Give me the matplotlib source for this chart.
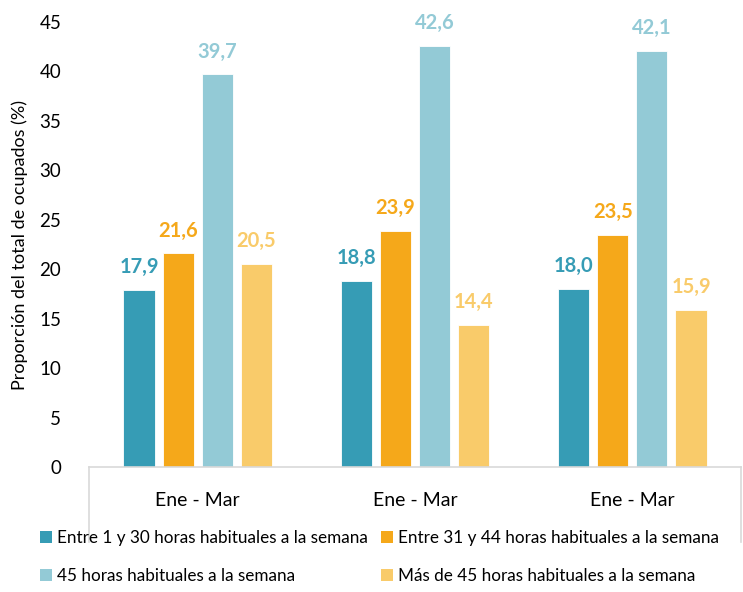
import matplotlib.pyplot as plt
from matplotlib.lines import Line2D
from matplotlib.patches import Patch
import numpy as np

plt.rcParams['font.family'] = ['Lato', 'DejaVu Sans']

# Datos
categorias = ['Ene - Mar', 'Ene - Mar', 'Ene - Mar']
series = ['Entre 1 y 30 horas habituales a la semana',
          'Entre 31 y 44 horas habituales a la semana',
          '45 horas habituales a la semana',
          'Más de 45 horas habituales a la semana']
entre_1_30 = [17.9, 18.8, 18.0]
entre_31_44 = [21.6, 23.9, 23.5]
h45 = [39.7, 42.6, 42.1]
mas_45 = [20.5, 14.4, 15.9]
valores = [entre_1_30, entre_31_44, h45, mas_45]
colores = ['#369CB5', '#F5A81A', '#93CAD6', '#F9CB6A']

fig = plt.figure(figsize=(7.43, 5.92), dpi=100)
ax = fig.add_axes([0.1198, 0.2111, 0.8775, 0.7517])

x = np.arange(len(categorias))
ancho = 0.143
paso = 0.18
for i, (vals, col) in enumerate(zip(valores, colores)):
    pos = x + (i - 1.5) * paso
    bars = ax.bar(pos, vals, width=ancho, color=col, edgecolor='white', linewidth=0.6)
    for b, v in zip(bars, vals):
        ax.text(b.get_x() + b.get_width() / 2, v + 1.3, f'{v:.1f}'.replace('.', ','),
                ha='center', va='bottom', color=col, fontsize=14.5, fontweight='bold')

ax.set_xlim(-0.5, 2.5)
ax.set_ylim(0, 45)
ax.set_yticks(range(0, 46, 5))
ax.set_xticks(x)
ax.set_xticklabels(categorias, fontsize=14)
ax.tick_params(axis='y', length=0, pad=20, labelsize=13.5)
ax.tick_params(axis='x', length=0, pad=18)
ax.set_ylabel('Proporción del total de ocupados (%)', fontsize=13, labelpad=8)

for s in ['top', 'right', 'left']:
    ax.spines[s].set_visible(False)
ax.spines['bottom'].set_color('#D9D9D9')
ax.spines['bottom'].set_linewidth(1.2)

for xa in [0, 1]:
    ax.add_line(Line2D([xa, xa], [0, -0.1685], transform=ax.transAxes,
                       color='#D9D9D9', linewidth=1.2, clip_on=False))

# legend filled row by row
orden = [0, 2, 1, 3]
handles = [Patch(facecolor=colores[k], edgecolor='none') for k in orden]
etiquetas = [series[k] for k in orden]
fig.legend(handles, etiquetas, loc='lower left', bbox_to_anchor=(0.033, -0.012), ncol=2,
           frameon=False, fontsize=12.3, handlelength=0.7, handleheight=0.7,
           handletextpad=0.3, columnspacing=0.75, labelspacing=1.25)

fig.savefig('out.png', dpi=100)
